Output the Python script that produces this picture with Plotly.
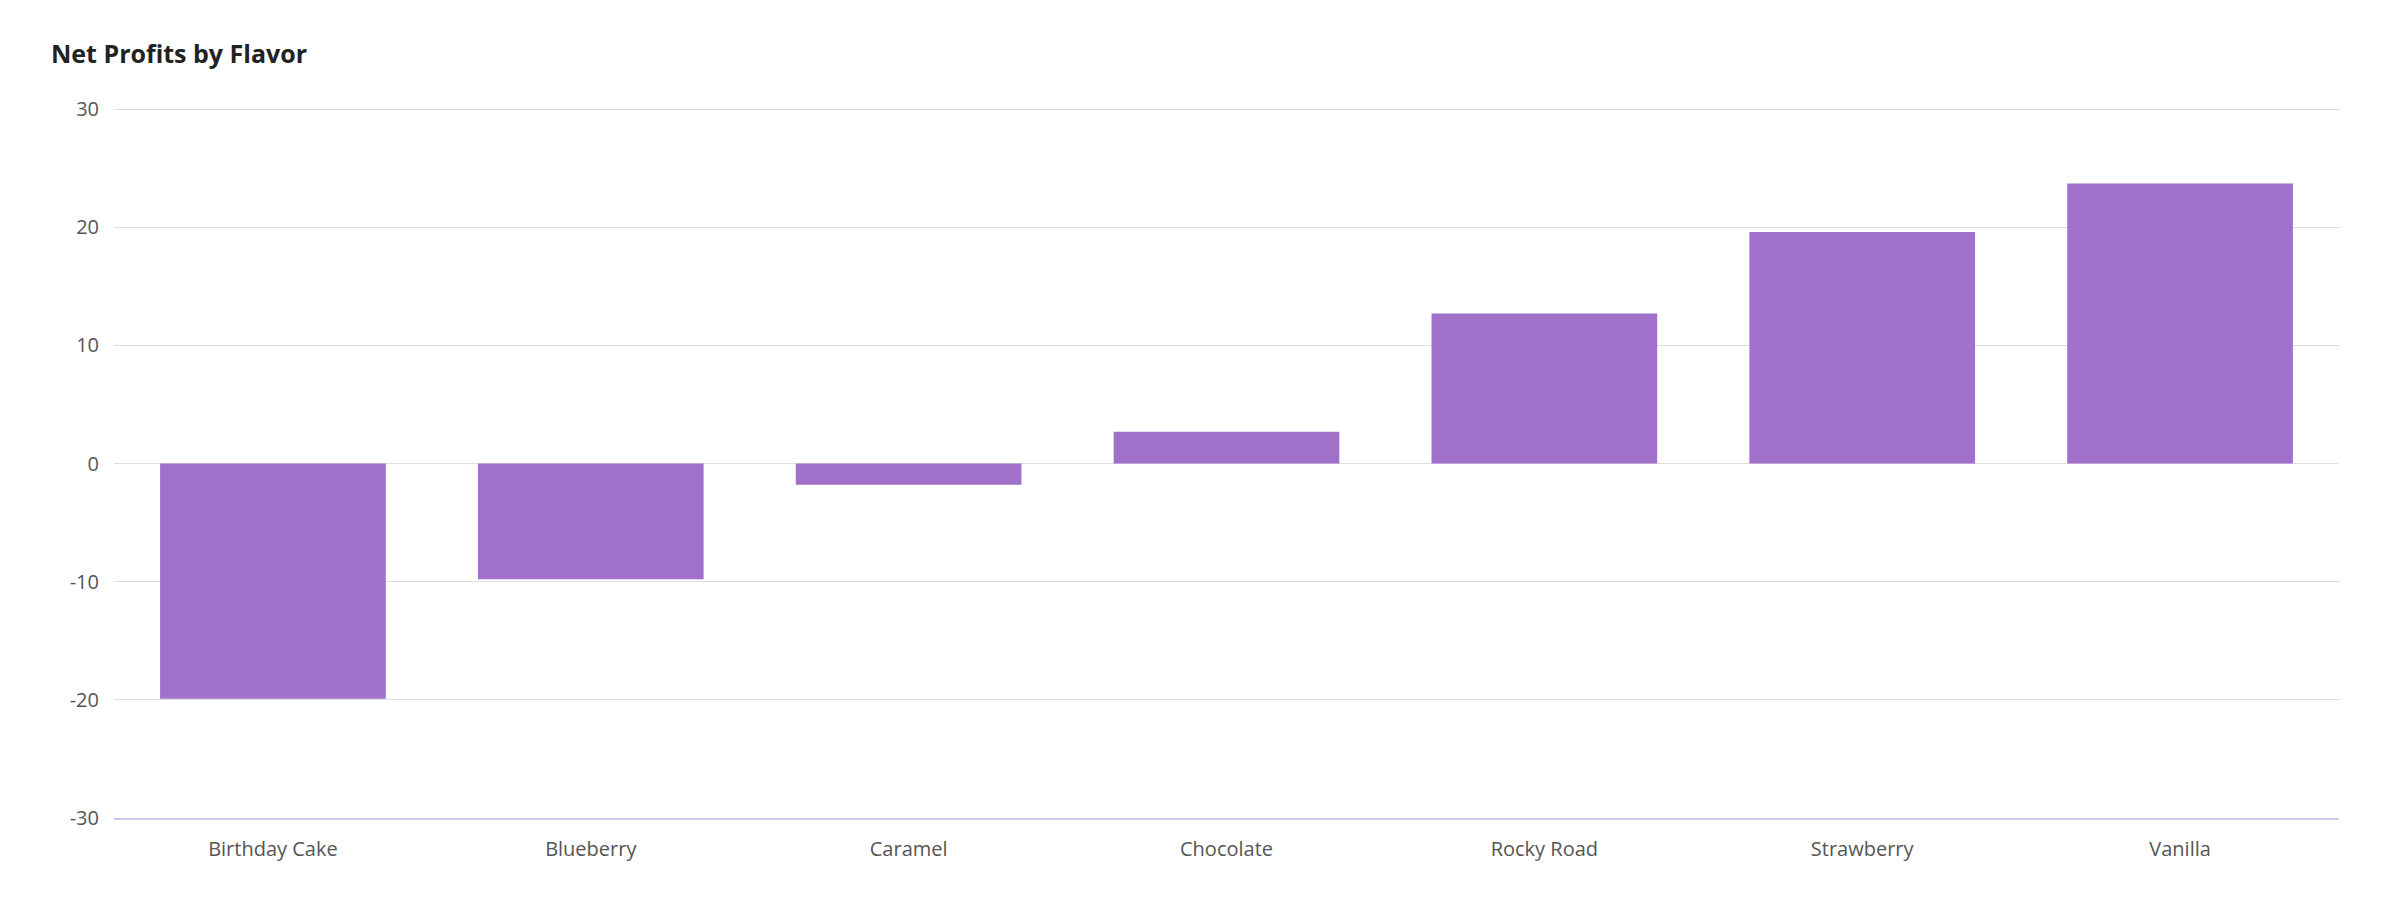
import plotly.graph_objects as go

flavors = ["Birthday Cake", "Blueberry", "Caramel", "Chocolate", "Rocky Road", "Strawberry", "Vanilla"]
profits = [-19.9, -9.8, -1.8, 2.7, 12.7, 19.6, 23.7]
y_ticks = [-30, -20, -10, 0, 10, 20, 30]

fig = go.Figure(go.Bar(x=flavors, y=profits, marker_color="#A070CB", marker_line_width=0, width=0.71))
fig.update_layout(
    width=2382, height=908, plot_bgcolor="white", paper_bgcolor="white",
    margin=dict(l=106, r=51, t=100, b=98),
    font=dict(family="Open Sans", size=20, color="#444"),
    title=dict(text="<b>Net Profits by Flavor</b>", x=43/2382, xanchor="left", y=1-46/908, yanchor="middle",
               font=dict(size=25, color="#222")),
    bargap=0.29, showlegend=False,
)
fig.update_yaxes(range=[-30, 30.1], tickvals=y_ticks, ticktext=[str(v) for v in y_ticks],
                 gridcolor="#dddddd", zeroline=False, showline=False, ticklen=0, ticks="",
                 ticklabelstandoff=14,
                 tickfont=dict(size=20, color="#555"))
fig.update_xaxes(showline=True, linecolor="#c8c8e8", linewidth=2, tickfont=dict(size=20, color="#555"),
                 ticks="", ticklabelstandoff=12)
fig.update_layout(margin=dict(l=106, r=51, t=100, b=98))
fig.write_html("out.html")
